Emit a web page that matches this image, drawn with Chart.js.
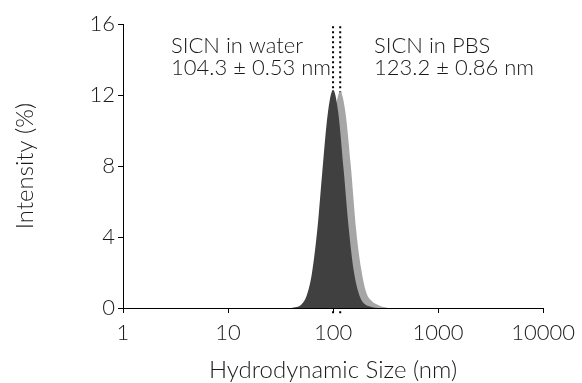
<!DOCTYPE html>
<html>
<head>
<meta charset="utf-8">
<script src="https://cdn.jsdelivr.net/npm/chart.js@4/dist/chart.umd.min.js"></script>
<style>
  html, body { margin: 0; padding: 0; background: #fff; }
  #wrap { width: 582px; height: 383px; }
</style>
</head>
<body>
<div id="wrap"><canvas id="c" width="582" height="383"></canvas></div>
<script>
/* DLS intensity distributions, SICN in water vs in PBS (log size axis). */

// ---- data ----
const waterSize      = [40, 45, 50, 56, 63, 71, 79, 89, 100, 112, 126, 141, 158, 178, 200, 224, 251, 282];
const waterIntensity = [0, 0.05, 0.2, 0.69, 1.97, 4.49, 7.67, 10.93, 12.3, 11.03, 7.82, 4.49, 2.04, 0.72, 0.22, 0.08, 0.02, 0];

const pbsSize      = [46.6, 52.3, 58.6, 65.8, 73.8, 82.8, 92.9, 104.3, 117, 131.3, 147.3, 165.3, 185.4, 208, 233.4, 262, 294, 330];
const pbsIntensity = [0, 0.06, 0.3, 0.92, 2.34, 4.81, 8.07, 11.0, 12.2, 11.0, 8.07, 4.5, 2.2, 0.85, 0.4, 0.2, 0.07, 0.01];

// mean sizes marked by dotted lines
const peakMarks = [100, 117];
const markSpan  = [-0.3, 16];

const xTicks = [1, 10, 100, 1000, 10000];
const yTicks = [0, 4, 8, 12, 16];

const waterLabel = ["SICN in water", "104.3 \u00b1 0.53 nm"];
const pbsLabel   = ["SICN in PBS", "123.2 \u00b1 0.86 nm"];
const xTitle = "Hydrodynamic Size (nm)";
const yTitle = "Intensity (%)";

// ---- styling ----
const INK = "#1a1a1a";
const DARK = "#404040";
const LIGHT = "#a6a6a6";
const FONT = "Lato";
const FS = 22;      // ticks + notes
const TS = 24;      // axis titles

const pts = (xs, ys) => xs.map((x, i) => ({ x, y: ys[i] }));

const markSets = peakMarks.map(v => ({
  type: "line",
  data: markSpan.map(y => ({ x: v, y })),
  borderColor: "#000", borderWidth: 2, borderDash: [2, 3],
  pointRadius: 0, fill: false, clip: false, order: 3,
}));

const textPlugin = {
  id: "texts",
  afterDraw(chart) {
    const { ctx, chartArea: ca } = chart;
    ctx.save();
    ctx.fillStyle = INK;
    ctx.font = `300 ${FS}px ${FONT}`;
    ctx.textAlign = "left";
    ctx.textBaseline = "alphabetic";
    ctx.fillText(waterLabel[0], 171, 53);
    ctx.fillText(waterLabel[1], 171, 75);
    ctx.fillText(pbsLabel[0], 374, 53);
    ctx.fillText(pbsLabel[1], 374, 75);
    // axis titles
    ctx.font = `300 ${TS}px ${FONT}`;
    ctx.textAlign = "center";
    ctx.fillText(xTitle, (ca.left + ca.right) / 2, 378);
    ctx.translate(33, (ca.top + ca.bottom) / 2);
    ctx.rotate(-Math.PI / 2);
    ctx.fillText(yTitle, 0, 0);
    ctx.restore();
  },
};

new Chart(document.getElementById("c"), {
  type: "line",
  data: {
    datasets: [
      { label: waterLabel[0], data: pts(waterSize, waterIntensity),
        backgroundColor: DARK, borderColor: DARK, borderWidth: 0,
        fill: "origin", pointRadius: 0, cubicInterpolationMode: "monotone", order: 1 },
      { label: pbsLabel[0], data: pts(pbsSize, pbsIntensity),
        backgroundColor: LIGHT, borderColor: LIGHT, borderWidth: 0,
        fill: "origin", pointRadius: 0, cubicInterpolationMode: "monotone", order: 2 },
      ...markSets,
    ],
  },
  options: {
    responsive: false,
    animation: false,
    devicePixelRatio: 1,
    layout: { padding: { top: 24, right: 31, bottom: 0, left: 0 } },
    plugins: { legend: { display: false }, tooltip: { enabled: false } },
    scales: {
      x: {
        type: "logarithmic", min: 1, max: 10000,
        afterBuildTicks(s) { s.ticks = xTicks.map(value => ({ value })); },
        afterFit(s) { s.height = 75; },
        grid: { drawOnChartArea: false, drawTicks: true, tickLength: 5, color: "#000" },
        border: { display: true, color: "#000", width: 1 },
        ticks: { color: INK, font: { family: FONT, size: FS, weight: 300 }, padding: 7, maxRotation: 0,
                 callback: v => String(v) },
      },
      y: {
        min: 0, max: 16,
        afterBuildTicks(s) { s.ticks = yTicks.map(value => ({ value })); },
        afterFit(s) { s.width = 123; },
        grid: { drawOnChartArea: false, drawTicks: true, tickLength: 5, color: "#000" },
        border: { display: true, color: "#000", width: 1 },
        ticks: { color: INK, font: { family: FONT, size: FS, weight: 300 }, padding: 3 },
      },
    },
  },
  plugins: [textPlugin],
});
</script>
</body>
</html>
